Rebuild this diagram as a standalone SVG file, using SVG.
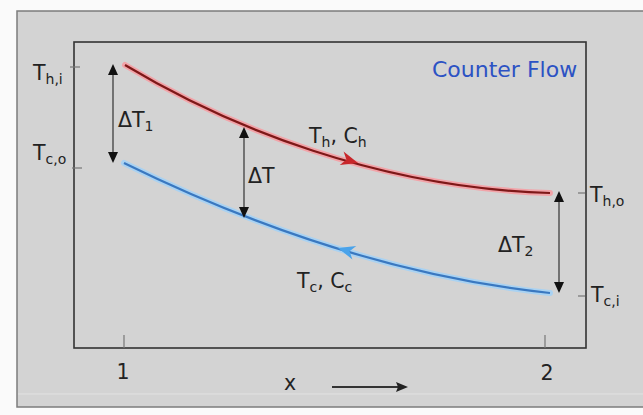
<svg xmlns="http://www.w3.org/2000/svg" width="643" height="415" viewBox="0 0 643 415">
<defs>
<style>
.lbl{font-family:"DejaVu Sans","Liberation Sans",sans-serif;font-size:20.5px;fill:#222}
.sub{font-size:14px}
.dim{stroke:#333;stroke-width:1.2;fill:none}
.tick{stroke:#777;stroke-width:1.2}
.head{fill:#111}
</style>
</defs>
<rect x="0" y="0" width="643" height="415" fill="#fafafa"/>
<g id="panel">
<rect x="17" y="11" width="640" height="396" fill="#d3d3d3" stroke="#7c7c7c" stroke-width="1.5"/>
<line x1="18" y1="394" x2="643" y2="394" stroke="#e2e2e2" stroke-width="1"/>
<rect x="74" y="42" width="512" height="306" fill="#d3d3d3" stroke="#333" stroke-width="1.6"/>
</g>
<g id="axis">
<line class="tick" x1="124" y1="335" x2="124" y2="348"/>
<line class="tick" x1="545" y1="335" x2="545" y2="348"/>
<text class="lbl" x="123" y="379" text-anchor="middle">1</text>
<text class="lbl" x="547" y="380" text-anchor="middle">2</text>
<text class="lbl" x="290" y="390" text-anchor="middle">x</text>
<line x1="332" y1="387" x2="398" y2="387" stroke="#333" stroke-width="1.8"/>
<polygon points="408,387 396,382 398,387 396,392" fill="#222"/>
</g>
<g id="label-ticks">
<line class="tick" x1="70" y1="67" x2="80" y2="67"/>
<line class="tick" x1="72" y1="168" x2="82" y2="168"/>
<line class="tick" x1="578" y1="193" x2="585" y2="193"/>
<line class="tick" x1="578" y1="296" x2="585" y2="296"/>
</g>
<g id="hot-stream">
<path d="M125,65 C230,128 380,188 550,193" fill="none" stroke="#f2a3a8" stroke-width="6" stroke-linecap="round"/>
<path d="M125,65 C230,128 380,188 550,193" fill="none" stroke="#7e1818" stroke-width="2.2"/>
<polygon points="0,0 -17,-7 -12,0 -17,7" fill="#c8262a" transform="translate(358,163) rotate(16)"/>
<text class="lbl" x="309" y="143">T<tspan class="sub" dy="4">h</tspan><tspan dy="-4">, C</tspan><tspan class="sub" dy="4">h</tspan></text>
</g>
<g id="cold-stream">
<path d="M124,163 C230,215 380,275 550,293" fill="none" stroke="#a9d2f2" stroke-width="6" stroke-linecap="round"/>
<path d="M124,163 C230,215 380,275 550,293" fill="none" stroke="#3a78c0" stroke-width="2.2"/>
<polygon points="0,0 -17,-7 -12,0 -17,7" fill="#4aa3ea" transform="translate(338,248) rotate(196)"/>
<text class="lbl" x="297" y="288">T<tspan class="sub" dy="4">c</tspan><tspan dy="-4">, C</tspan><tspan class="sub" dy="4">c</tspan></text>
</g>
<g id="title">
<text x="432" y="77" font-family="DejaVu Sans, Liberation Sans, sans-serif" font-size="22" fill="#2c52c4">Counter Flow</text>
</g>
<g id="temps">
<text class="lbl" x="33" y="80">T<tspan class="sub" dy="4">h,i</tspan></text>
<text class="lbl" x="33" y="160">T<tspan class="sub" dy="4">c,o</tspan></text>
<text class="lbl" x="590" y="202">T<tspan class="sub" dy="4">h,o</tspan></text>
<text class="lbl" x="591" y="302">T<tspan class="sub" dy="4">c,i</tspan></text>
</g>
<g id="connectors">
<g id="dT1">
<line class="dim" x1="113" y1="72" x2="113" y2="154"/>
<polygon class="head" points="113,64 108,75 118,75"/>
<polygon class="head" points="113,163 108,152 118,152"/>
<text class="lbl" x="118" y="127">ΔT<tspan class="sub" dy="4">1</tspan></text>
</g>
<g id="dT">
<line class="dim" x1="244" y1="135" x2="244" y2="210"/>
<polygon class="head" points="244,127 239,138 249,138"/>
<polygon class="head" points="244,218 239,207 249,207"/>
<text class="lbl" x="248" y="183">ΔT</text>
</g>
<g id="dT2">
<line class="dim" x1="559" y1="199" x2="559" y2="285"/>
<polygon class="head" points="559,191 554,202 564,202"/>
<polygon class="head" points="559,293 554,282 564,282"/>
<text class="lbl" x="498" y="252">ΔT<tspan class="sub" dy="4">2</tspan></text>
</g>
</g>
</svg>
